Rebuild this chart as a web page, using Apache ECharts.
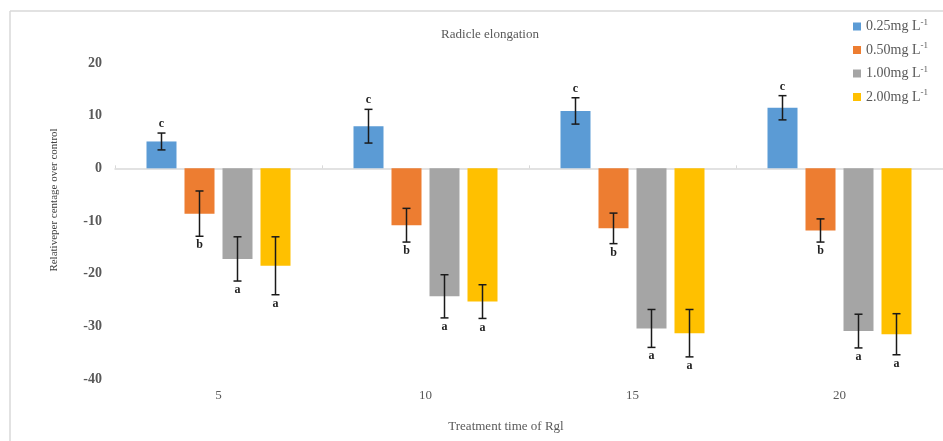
<!DOCTYPE html>
<html>
<head>
<meta charset="utf-8">
<script src="https://cdn.jsdelivr.net/npm/echarts@6/dist/echarts.min.js"></script>
<style>
  html, body { margin: 0; padding: 0; background: #fff; }
  #chart { width: 943px; height: 441px; }
</style>
</head>
<body>
<div id="chart"></div>
<script>
// Treatment times (categories)
const categories = ['5', '10', '15', '20'];
const seriesNames = ['0.25mg L', '0.50mg L', '1.00mg L', '2.00mg L'];
const colors = ['#5b9bd5', '#ed7d31', '#a5a5a5', '#ffc000'];

// Relative percentage over control (mean values)
const dose025 = [5.1, 8.0, 10.9, 11.5];
const dose050 = [-8.6, -10.8, -11.4, -11.8];
const dose100 = [-17.2, -24.3, -30.4, -30.9];
const dose200 = [-18.5, -25.3, -31.3, -31.5];

// Error bar half-widths
const err025 = [1.6, 3.2, 2.5, 2.3];
const err050 = [4.3, 3.2, 2.9, 2.2];
const err100 = [4.2, 4.1, 3.6, 3.2];
const err200 = [5.5, 3.2, 4.5, 3.9];

// Significance letters
const letters025 = ['c', 'c', 'c', 'c'];
const letters050 = ['b', 'b', 'b', 'b'];
const letters100 = ['a', 'a', 'a', 'a'];
const letters200 = ['a', 'a', 'a', 'a'];

const yTicks = [-40, -30, -20, -10, 0, 10, 20];

const means = [dose025, dose050, dose100, dose200];
const errs = [err025, err050, err100, err200];
const letters = [letters025, letters050, letters100, letters200];

const serif = '"Liberation Serif", "DejaVu Serif", serif';
const BAR_W = 30;
const BAR_GAP = 8;

const chart = echarts.init(document.getElementById('chart'), null, { renderer: 'canvas' });

const barSeries = means.map((vals, i) => ({
  name: seriesNames[i],
  type: 'bar',
  data: vals,
  barWidth: BAR_W,
  barGap: (BAR_GAP / BAR_W * 100) + '%',
  itemStyle: { color: colors[i] },
  silent: true,
  z: 2
}));

// Error bars and letters drawn per dose
const errSeries = means.map((vals, i) => ({
  type: 'custom',
  name: 'err' + i,
  data: vals.map((v, j) => [j, v, errs[i][j]]),
  encode: { x: 0, y: 1 },
  silent: true,
  z: 5,
  renderItem: function (params, api) {
    const idx = api.value(0);
    const mean = api.value(1);
    const e = api.value(2);
    const letter = letters[i][params.dataIndex];
    const center = api.coord([idx, 0]);
    const pitch = BAR_W + BAR_GAP;
    const x = center[0] + (i - 1.5) * pitch;
    const yHi = api.coord([idx, mean + e])[1];
    const yLo = api.coord([idx, mean - e])[1];
    const cap = 4;
    const style = { stroke: '#1a1a1a', lineWidth: 1.5 };
    const positive = mean >= 0;
    const ly = positive ? yHi - 9 : yLo + 9;
    return {
      type: 'group',
      children: [
        { type: 'line', shape: { x1: x, y1: yHi, x2: x, y2: yLo }, style: style },
        { type: 'line', shape: { x1: x - cap, y1: yHi, x2: x + cap, y2: yHi }, style: style },
        { type: 'line', shape: { x1: x - cap, y1: yLo, x2: x + cap, y2: yLo }, style: style },
        {
          type: 'text',
          style: {
            x: x, y: ly, text: letter,
            align: 'center', verticalAlign: 'middle',
            font: 'bold 12px ' + serif, fill: '#222'
          }
        }
      ]
    };
  }
}));

const option = {
  animation: false,
  backgroundColor: '#ffffff',
  title: [
    {
      text: 'Radicle elongation',
      left: 485, top: 23, textAlign: 'center',
      textStyle: { fontFamily: serif, fontSize: 13, fontWeight: 'normal', color: '#595959' }
    },
    {
      text: 'Treatment time of Rgl',
      left: 501, top: 415, textAlign: 'center',
      textStyle: { fontFamily: serif, fontSize: 13, fontWeight: 'normal', color: '#595959' }
    }
  ],
  legend: {
    orient: 'vertical',
    left: 848, top: 13,
    itemWidth: 8, itemHeight: 8,
    itemGap: 8,
    icon: 'rect',
    data: seriesNames,
    formatter: function (name) { return '{a|' + name + '}{s|-1}'; },
    textStyle: {
      fontFamily: serif, fontSize: 14, color: '#595959',
      rich: {
        a: { fontFamily: serif, fontSize: 14, color: '#595959' },
        s: { fontFamily: serif, fontSize: 9, color: '#595959', padding: [0, 0, 8, 0] }
      }
    }
  },
  grid: { left: 115, right: 0, top: 63, bottom: 62, containLabel: false },
  xAxis: [
    {
      type: 'category',
      data: categories,
      position: 'bottom',
      axisLine: { show: false, onZero: false },
      axisTick: { show: false },
      axisLabel: { fontFamily: serif, fontSize: 13, color: '#595959', margin: 10 },
      splitLine: { show: false }
    },
    {
      type: 'category',
      data: categories,
      axisLine: { show: true, onZero: true, lineStyle: { color: '#d9d9d9', width: 1.5 } },
      axisTick: { show: true, length: 3, lineStyle: { color: '#d9d9d9' } },
      axisLabel: { show: false },
      splitLine: { show: false }
    }
  ],
  yAxis: {
    type: 'value',
    min: yTicks[0], max: yTicks[yTicks.length - 1], interval: 10,
    axisLine: { show: false },
    axisTick: { show: false },
    splitLine: { show: false },
    axisLabel: { fontFamily: serif, fontSize: 14, fontWeight: 'bold', color: '#595959', margin: 13 }
  },
  graphic: [
    { type: 'line', shape: { x1: 10, y1: 11, x2: 943, y2: 11 }, style: { stroke: '#d9d9d9', lineWidth: 1.5 }, silent: true },
    { type: 'line', shape: { x1: 10, y1: 11, x2: 10, y2: 441 }, style: { stroke: '#d9d9d9', lineWidth: 1.5 }, silent: true },
    {
      type: 'text', x: 54, y: 200, rotation: Math.PI / 2, silent: true,
      style: {
        text: 'Relativeper centage over control',
        align: 'center', verticalAlign: 'middle',
        font: '11px ' + serif, fill: '#404040'
      }
    }
  ],
  series: barSeries.concat(errSeries)
};

chart.setOption(option);
</script>
</body>
</html>
